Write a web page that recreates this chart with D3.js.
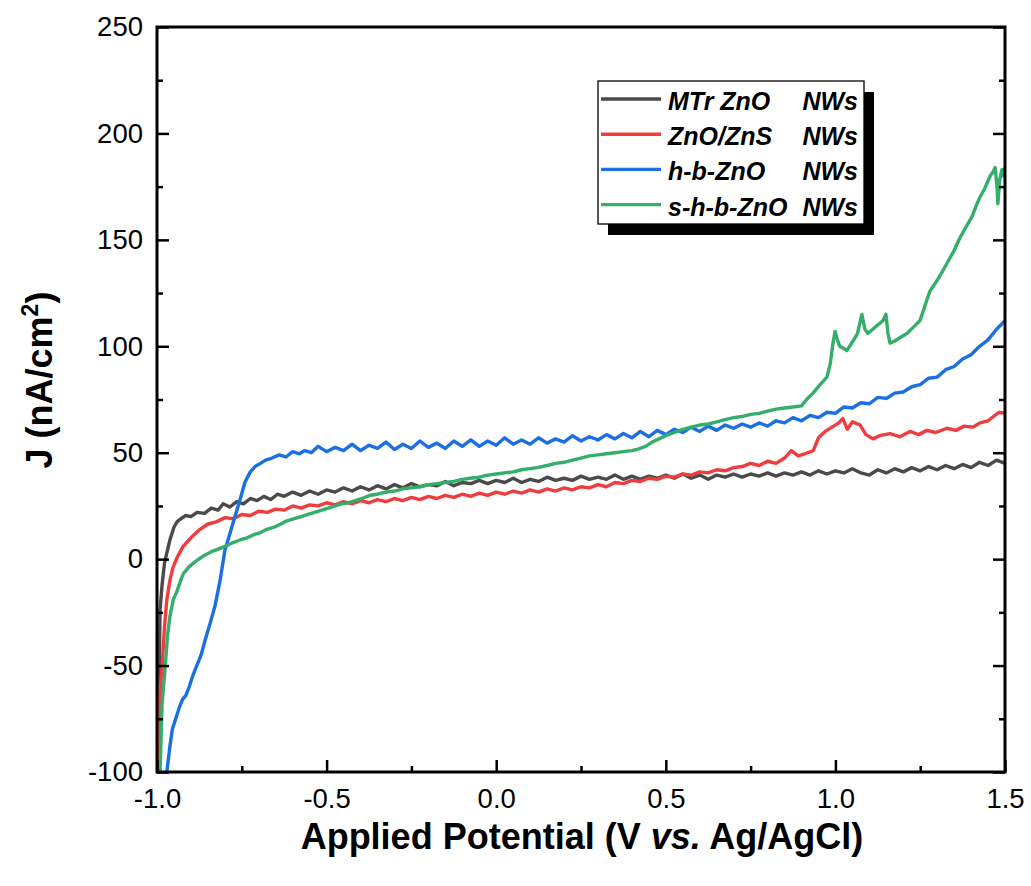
<!DOCTYPE html>
<html><head><meta charset="utf-8">
<script src="https://cdn.jsdelivr.net/npm/d3@7"></script>
<style>body{margin:0;background:#fff} svg{display:block}</style>
</head><body><svg id="c" width="1031" height="886"></svg>
<script>
const xTicks = [-1.0, -0.5, 0.0, 0.5, 1.0, 1.5];
const xMinor = [-0.75, -0.25, 0.25, 0.75, 1.25];
const yTicks = [-100, -50, 0, 50, 100, 150, 200, 250];
const yMinor = [-75, -25, 25, 75, 125, 175, 225];
const legendNames = ["MTr ZnO", "ZnO/ZnS", "h-b-ZnO", "s-h-b-ZnO"];
const legendSuffix = ["NWs", "NWs", "NWs", "NWs"];
const seriesColors = ["#4a4a4a", "#f03c3e", "#1b6fe2", "#33ae6b"];

const mtrZnO = [[-0.996,-100],[-0.994,-60],[-0.991,-24],[-0.985,-12],[-0.978,-2],[-0.971,3],[-0.962,9],[-0.950,15],[-0.941,17.5],[-0.930,19],[-0.915,20.5],[-0.900,20],[-0.882,22],[-0.860,21.5],[-0.840,24],[-0.820,23],[-0.805,26],[-0.785,24.5],[-0.765,27],[-0.745,26],[-0.725,28.5],[-0.705,27.5],[-0.685,29.5],[-0.665,28],[-0.645,30.5],[-0.625,29.5],[-0.600,31.5],[-0.575,30],[-0.550,32],[-0.525,30.5],[-0.500,32.5],[-0.475,31.5],[-0.450,33.5],[-0.425,32],[-0.400,34],[-0.375,32.5],[-0.350,34.5],[-0.325,33],[-0.300,35],[-0.275,33.5],[-0.250,35.5],[-0.225,34],[-0.200,35],[-0.175,34.5],[-0.150,36.5],[-0.125,34.5],[-0.100,36],[-0.075,35.5],[-0.050,37],[-0.025,35.5],[0.000,37],[0.025,36],[0.050,38],[0.075,36],[0.100,37.5],[0.125,36.5],[0.150,38.5],[0.175,37],[0.200,38],[0.225,37],[0.250,39],[0.275,37.5],[0.300,38.5],[0.325,37.5],[0.350,39.5],[0.375,37.5],[0.400,39],[0.425,37.5],[0.450,39],[0.475,38],[0.500,39.5],[0.525,38],[0.550,40],[0.575,38],[0.600,39.5],[0.625,37.5],[0.650,39.5],[0.675,38.5],[0.700,40],[0.725,38.5],[0.750,40],[0.775,39],[0.800,40.5],[0.825,39],[0.850,40.5],[0.875,39.5],[0.900,41],[0.925,39.5],[0.950,41.5],[0.975,40],[1.000,41.5],[1.025,40.5],[1.050,42.5],[1.075,40.5],[1.100,39.5],[1.125,42],[1.150,40.5],[1.175,42.5],[1.200,41],[1.225,43],[1.250,41.5],[1.275,43.5],[1.300,42],[1.325,44],[1.350,42.5],[1.375,44.5],[1.400,43],[1.425,45.5],[1.450,44],[1.475,46.5],[1.500,45]];

const znoZnS = [[-0.998,-100],[-0.994,-75],[-0.990,-60],[-0.985,-51],[-0.978,-32],[-0.971,-19],[-0.962,-10],[-0.953,-4],[-0.940,1],[-0.923,6],[-0.900,10],[-0.873,14],[-0.850,16.5],[-0.825,17.5],[-0.800,19.5],[-0.775,19],[-0.750,21],[-0.725,20.5],[-0.700,22.5],[-0.675,22],[-0.650,23.5],[-0.625,23],[-0.600,25],[-0.575,24],[-0.550,25.5],[-0.525,25],[-0.500,26.5],[-0.475,25.5],[-0.450,27],[-0.425,26],[-0.400,27.5],[-0.375,26.5],[-0.350,28],[-0.325,27],[-0.300,28.5],[-0.275,27.5],[-0.250,29],[-0.225,28],[-0.200,29.5],[-0.175,28.5],[-0.150,30],[-0.125,29],[-0.100,30.5],[-0.075,29.5],[-0.050,31],[-0.025,30],[0.000,31.5],[0.025,30.5],[0.050,32],[0.075,31],[0.100,32.5],[0.125,31.5],[0.150,33],[0.175,32],[0.200,33.5],[0.225,32.5],[0.250,34],[0.275,33.5],[0.300,35],[0.325,34],[0.350,36],[0.375,35.5],[0.400,37],[0.425,36.5],[0.450,38],[0.475,37.5],[0.500,39],[0.525,38.5],[0.550,40],[0.575,39.5],[0.600,41],[0.625,40.5],[0.650,42],[0.675,41.5],[0.700,43],[0.725,43.5],[0.750,45],[0.775,44],[0.800,46],[0.825,45],[0.850,47.5],[0.870,51],[0.890,48.5],[0.910,49.5],[0.935,51],[0.950,57],[0.970,60],[0.990,62],[1.010,64],[1.022,66],[1.035,61],[1.050,64.5],[1.073,63],[1.090,58.5],[1.111,56.5],[1.130,58],[1.161,59],[1.190,57.5],[1.220,60],[1.245,58.5],[1.270,60.5],[1.295,59.5],[1.329,61.5],[1.355,60.5],[1.380,62.5],[1.405,62],[1.426,64],[1.450,65],[1.470,67.5],[1.483,69],[1.500,68.5]];

const hbZnO = [[-0.971,-100],[-0.962,-88],[-0.955,-80],[-0.947,-76],[-0.935,-70],[-0.925,-66],[-0.915,-64],[-0.905,-60],[-0.895,-55],[-0.885,-51],[-0.870,-45],[-0.858,-38],[-0.845,-31],[-0.829,-22],[-0.814,-10],[-0.800,4],[-0.785,12],[-0.770,20],[-0.755,28],[-0.741,36],[-0.725,41],[-0.711,43.5],[-0.695,45],[-0.680,46.5],[-0.661,47.5],[-0.640,49],[-0.620,48],[-0.600,50.5],[-0.580,49.5],[-0.564,51],[-0.545,50],[-0.525,53],[-0.500,50.5],[-0.475,52.5],[-0.450,51],[-0.425,54],[-0.400,51],[-0.375,53.5],[-0.350,52],[-0.325,55],[-0.300,51.5],[-0.275,54],[-0.250,52],[-0.225,55.5],[-0.200,52.5],[-0.175,54.5],[-0.150,52],[-0.125,55.5],[-0.100,53],[-0.075,56],[-0.050,53],[-0.025,55.5],[0.000,53.5],[0.025,57],[0.050,54],[0.075,56],[0.100,54],[0.125,57],[0.150,54.5],[0.175,56.5],[0.200,55],[0.225,58],[0.250,55.5],[0.275,57.5],[0.300,56],[0.325,58.5],[0.350,56.5],[0.375,59],[0.400,57],[0.425,60],[0.450,57.5],[0.475,60.5],[0.500,58.5],[0.525,61],[0.550,59.5],[0.575,62],[0.600,60],[0.625,62.5],[0.650,60.5],[0.675,63],[0.700,61.5],[0.725,63.5],[0.750,62],[0.775,64],[0.800,62.5],[0.825,65],[0.850,64],[0.875,66.5],[0.900,65],[0.925,67.5],[0.950,66.5],[0.975,69],[1.000,68.5],[1.025,71.5],[1.050,71],[1.075,73.5],[1.100,73],[1.125,76],[1.150,75.5],[1.175,78],[1.200,78.5],[1.225,81],[1.250,82],[1.275,85],[1.300,85.5],[1.325,89],[1.350,90.5],[1.375,94],[1.400,96],[1.425,100],[1.450,103],[1.475,108],[1.500,112]];

const shbZnO = [[-0.991,-100],[-0.985,-68],[-0.976,-51],[-0.969,-36],[-0.962,-27],[-0.952,-19],[-0.941,-15],[-0.930,-10],[-0.923,-7],[-0.905,-3.5],[-0.882,-0.5],[-0.858,2],[-0.840,3.5],[-0.823,4.5],[-0.800,6],[-0.780,7.5],[-0.755,9],[-0.735,10],[-0.715,11.5],[-0.695,12.5],[-0.676,14],[-0.655,15],[-0.635,16.5],[-0.617,18],[-0.595,19],[-0.575,20],[-0.555,21],[-0.535,22],[-0.514,23],[-0.495,24],[-0.475,25],[-0.455,26],[-0.435,26.5],[-0.415,27.5],[-0.395,28.5],[-0.372,30],[-0.350,30.5],[-0.325,31.5],[-0.300,32],[-0.275,33],[-0.250,33.5],[-0.225,34],[-0.200,35],[-0.175,35.5],[-0.150,36],[-0.125,36.5],[-0.100,37.5],[-0.077,38],[-0.050,38.5],[-0.025,39.5],[0.000,40],[0.025,40.5],[0.050,41],[0.075,42],[0.100,42.5],[0.120,43],[0.150,44],[0.175,45],[0.200,45.5],[0.225,46.5],[0.250,47.5],[0.275,48.5],[0.300,49],[0.325,49.5],[0.350,50],[0.375,50.5],[0.400,51],[0.415,51.5],[0.440,53],[0.460,55],[0.480,56.5],[0.500,58],[0.525,59.5],[0.550,61],[0.575,62],[0.600,63],[0.625,63.5],[0.650,64.5],[0.675,65.5],[0.700,66.5],[0.725,67],[0.750,68],[0.775,68.5],[0.800,69.5],[0.825,70.5],[0.850,71],[0.875,71.5],[0.900,72],[0.915,75],[0.934,78],[0.955,82],[0.975,85.5],[0.985,92],[0.993,101.5],[0.999,107],[1.006,103],[1.013,100],[1.025,99],[1.034,98],[1.050,102],[1.065,106],[1.078,115],[1.087,108],[1.096,106],[1.110,108],[1.125,110],[1.140,112],[1.149,115],[1.155,106],[1.161,101.5],[1.175,102.5],[1.190,104],[1.211,106],[1.230,109],[1.249,112],[1.260,117],[1.270,122],[1.279,126],[1.300,131],[1.315,135],[1.329,139],[1.350,145],[1.367,151],[1.385,156],[1.403,161],[1.415,166],[1.426,170],[1.440,174],[1.456,180],[1.465,182],[1.471,184],[1.476,176],[1.479,167],[1.484,178],[1.491,183],[1.496,180],[1.500,184]];

const allSeries = [mtrZnO, znoZnS, hbZnO, shbZnO];

const FONT = "'Liberation Sans', Arial, Helvetica, sans-serif";
const svg = d3.select("#c");
const L = 157, R = 1005, T = 27, B = 772;
const x = d3.scaleLinear().domain([-1, 1.5]).range([L, R]);
const y = d3.scaleLinear().domain([-100, 250]).range([B, T]);

svg.append("defs").append("clipPath").attr("id", "clip")
  .append("rect").attr("x", L).attr("y", T).attr("width", R - L).attr("height", B - T);

const line = d3.line().x(d => x(d[0])).y(d => y(d[1]));
const g = svg.append("g").attr("clip-path", "url(#clip)");
allSeries.forEach((s, i) => {
  g.append("path").datum(s).attr("d", line).attr("fill", "none")
    .attr("stroke", seriesColors[i]).attr("stroke-width", 3.4).attr("stroke-linejoin", "round");
});

function styleAxis(sel, fs) {
  sel.select(".domain").remove();
  sel.selectAll(".tick line").attr("stroke", "#000").attr("stroke-width", 2.5);
  sel.selectAll(".tick text").attr("font-family", FONT).attr("font-size", fs).attr("fill", "#000");
}
const LF = 27.5;
const la = svg.append("g").attr("transform", `translate(${L},0)`)
  .call(d3.axisLeft(y).tickValues(yTicks).tickSize(-12).tickPadding(14).tickFormat(d => String(d)));
styleAxis(la, LF);
const lm = svg.append("g").attr("transform", `translate(${L},0)`)
  .call(d3.axisLeft(y).tickValues(yMinor).tickSize(-6).tickFormat(""));
styleAxis(lm, LF);
const ra = svg.append("g").attr("transform", `translate(${R},0)`)
  .call(d3.axisRight(y).tickValues(yTicks).tickSize(-12).tickFormat(""));
styleAxis(ra, LF);
const rm = svg.append("g").attr("transform", `translate(${R},0)`)
  .call(d3.axisRight(y).tickValues(yMinor).tickSize(-6).tickFormat(""));
styleAxis(rm, LF);
const ba = svg.append("g").attr("transform", `translate(0,${B})`)
  .call(d3.axisBottom(x).tickValues(xTicks).tickSize(-12).tickPadding(16).tickFormat(d => d.toFixed(1)));
styleAxis(ba, LF);
const bm = svg.append("g").attr("transform", `translate(0,${B})`)
  .call(d3.axisBottom(x).tickValues(xMinor).tickSize(-6).tickFormat(""));
styleAxis(bm, LF);

svg.append("rect").attr("x", L).attr("y", T).attr("width", R - L).attr("height", B - T)
  .attr("fill", "none").attr("stroke", "#000").attr("stroke-width", 3);

const xt = svg.append("text").attr("x", 582).attr("y", 849).attr("text-anchor", "middle")
  .attr("font-family", FONT).attr("font-size", 36).attr("font-weight", "bold");
xt.append("tspan").text("Applied Potential (V ");
xt.append("tspan").attr("font-style", "italic").text("vs.");
xt.append("tspan").text(" Ag/AgCl)");

const yt = svg.append("text").attr("transform", "translate(52,380) rotate(-90)").attr("text-anchor", "middle")
  .attr("font-family", FONT).attr("font-size", 36).attr("font-weight", "bold");
yt.append("tspan").text("J (nA/cm");
yt.append("tspan").attr("font-size", 23).attr("dy", -14).text("2");
yt.append("tspan").attr("dy", 14).text(")");

const lg = svg.append("g");
lg.append("rect").attr("x", 608).attr("y", 92).attr("width", 266).attr("height", 143).attr("fill", "#000");
lg.append("rect").attr("x", 598).attr("y", 81).attr("width", 266).attr("height", 143)
  .attr("fill", "#fff").attr("stroke", "#000").attr("stroke-width", 1.3);
legendNames.forEach((n, i) => {
  const by = 110 + i * 35.2;
  lg.append("line").attr("x1", 601).attr("x2", 661).attr("y1", by - 11).attr("y2", by - 11)
    .attr("stroke", seriesColors[i]).attr("stroke-width", 3.4);
  lg.append("text").attr("x", 668).attr("y", by).attr("font-family", FONT).attr("font-size", 25)
    .attr("font-weight", "bold").attr("font-style", "italic").text(n);
  lg.append("text").attr("x", 858).attr("y", by).attr("text-anchor", "end").attr("font-family", FONT)
    .attr("font-size", 25).attr("font-weight", "bold").attr("font-style", "italic").text(legendSuffix[i]);
});
</script></body></html>
